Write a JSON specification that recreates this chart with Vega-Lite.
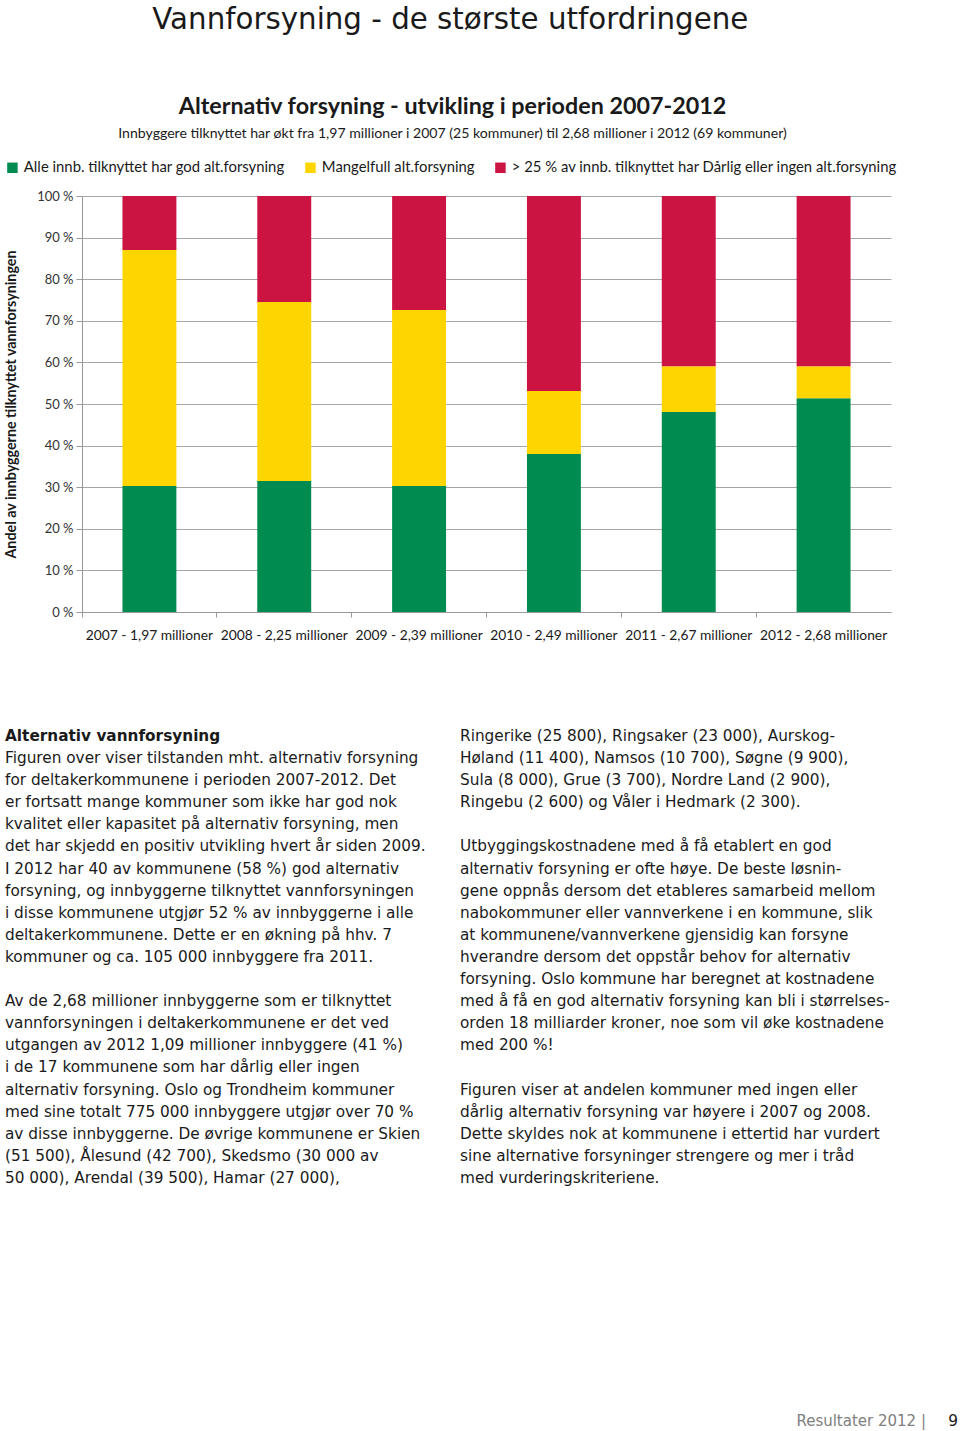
{
  "$schema": "https://vega.github.io/schema/vega-lite/v6.json",
  "background": "white",
  "padding": {"left": 4, "top": 6, "right": 0, "bottom": 0},
  "config": {"view": {"stroke": null}, "font": "Lato"},
  "title": {"text": "Vannforsyning - de største utfordringene", "font": "DejaVu Sans", "fontSize": 29.3, "fontWeight": "normal", "color": "#1a1a1a", "anchor": "middle", "offset": 59, "dx": -31},
  "spacing": 87,
  "vconcat": [
    {
      "width": 809,
      "height": 416,
      "title": {
        "text": "Alternativ forsyning - utvikling i perioden 2007-2012",
        "subtitle": "Innbyggere tilknyttet har økt fra 1,97 millioner i 2007 (25 kommuner) til 2,68 millioner i 2012 (69 kommuner)",
        "font": "Lato", "fontSize": 23.3, "fontWeight": "bold", "color": "#1a1a1a",
        "subtitleFont": "Lato", "subtitleFontSize": 14.1, "subtitleColor": "#1a1a1a", "subtitlePadding": 8,
        "offset": 48, "anchor": "middle", "dx": -34
      },
      "data": {"values": [
        {"year": "2007 - 1,97 millioner", "k": 1, "cat": "Alle innb. tilknyttet har god alt.forsyning", "value": 30.3},
        {"year": "2007 - 1,97 millioner", "k": 2, "cat": "Mangelfull alt.forsyning", "value": 56.7},
        {"year": "2007 - 1,97 millioner", "k": 3, "cat": "> 25 % av innb. tilknyttet har Dårlig eller ingen alt.forsyning", "value": 13.0},
        {"year": "2008 - 2,25 millioner", "k": 1, "cat": "Alle innb. tilknyttet har god alt.forsyning", "value": 31.5},
        {"year": "2008 - 2,25 millioner", "k": 2, "cat": "Mangelfull alt.forsyning", "value": 43.0},
        {"year": "2008 - 2,25 millioner", "k": 3, "cat": "> 25 % av innb. tilknyttet har Dårlig eller ingen alt.forsyning", "value": 25.5},
        {"year": "2009 - 2,39 millioner", "k": 1, "cat": "Alle innb. tilknyttet har god alt.forsyning", "value": 30.3},
        {"year": "2009 - 2,39 millioner", "k": 2, "cat": "Mangelfull alt.forsyning", "value": 42.3},
        {"year": "2009 - 2,39 millioner", "k": 3, "cat": "> 25 % av innb. tilknyttet har Dårlig eller ingen alt.forsyning", "value": 27.4},
        {"year": "2010 - 2,49 millioner", "k": 1, "cat": "Alle innb. tilknyttet har god alt.forsyning", "value": 38.0},
        {"year": "2010 - 2,49 millioner", "k": 2, "cat": "Mangelfull alt.forsyning", "value": 15.1},
        {"year": "2010 - 2,49 millioner", "k": 3, "cat": "> 25 % av innb. tilknyttet har Dårlig eller ingen alt.forsyning", "value": 46.9},
        {"year": "2011 - 2,67 millioner", "k": 1, "cat": "Alle innb. tilknyttet har god alt.forsyning", "value": 48.1},
        {"year": "2011 - 2,67 millioner", "k": 2, "cat": "Mangelfull alt.forsyning", "value": 11.0},
        {"year": "2011 - 2,67 millioner", "k": 3, "cat": "> 25 % av innb. tilknyttet har Dårlig eller ingen alt.forsyning", "value": 40.9},
        {"year": "2012 - 2,68 millioner", "k": 1, "cat": "Alle innb. tilknyttet har god alt.forsyning", "value": 51.4},
        {"year": "2012 - 2,68 millioner", "k": 2, "cat": "Mangelfull alt.forsyning", "value": 7.7},
        {"year": "2012 - 2,68 millioner", "k": 3, "cat": "> 25 % av innb. tilknyttet har Dårlig eller ingen alt.forsyning", "value": 40.9}
      ]},
      "mark": {"type": "bar", "width": {"band": 0.4}},
      "encoding": {
        "x": {"field": "year", "type": "nominal", "sort": null,
          "scale": {"paddingInner": 0, "paddingOuter": 0},
          "axis": {"title": null, "labelAngle": 0, "labelFontSize": 13.8, "labelColor": "#1a1a1a", "bandPosition": 0, "tickSize": 5, "tickColor": "#999", "domainColor": "#999", "labelPadding": 11, "grid": false}},
        "y": {"field": "value", "type": "quantitative", "stack": "zero",
          "scale": {"domain": [0, 100], "nice": false},
          "axis": {"values": [0, 10, 20, 30, 40, 50, 60, 70, 80, 90, 100], "labelExpr": "datum.value + ' %'",
            "title": "Andel av innbyggerne tilknyttet vannforsyningen", "titleFont": "Lato", "titleFontSize": 14.3, "titleFontWeight": "bold", "titleColor": "#1a1a1a", "titlePadding": 18,
            "labelFontSize": 13, "labelColor": "#333", "gridColor": "#a6a6a6", "domainColor": "#999", "tickColor": "#999", "tickSize": 6, "labelPadding": 3}},
        "order": {"field": "k", "type": "quantitative", "sort": "ascending"},
        "color": {"field": "cat", "type": "nominal",
          "sort": ["Alle innb. tilknyttet har god alt.forsyning", "Mangelfull alt.forsyning", "> 25 % av innb. tilknyttet har Dårlig eller ingen alt.forsyning"],
          "scale": {"domain": ["Alle innb. tilknyttet har god alt.forsyning", "Mangelfull alt.forsyning", "> 25 % av innb. tilknyttet har Dårlig eller ingen alt.forsyning"], "range": ["#008c50", "#ffd500", "#cc1442"]},
          "legend": {"title": null, "orient": "none", "legendX": -77, "legendY": -36, "direction": "horizontal", "symbolType": "square", "symbolSize": 110, "symbolStrokeWidth": 0, "symbolOpacity": 1, "labelFont": "Lato", "labelFontSize": 14.85, "labelColor": "#1a1a1a", "labelLimit": 0, "columnPadding": 18, "labelOffset": 4}}
      }
    },
    {
      "width": 809,
      "height": 685,
      "data": {"values": [
        {"col": 0, "line": 0, "kind": "heading", "text": "Alternativ vannforsyning"},
        {"col": 0, "line": 1, "kind": "body", "text": "Figuren over viser tilstanden mht. alternativ forsyning"},
        {"col": 0, "line": 2, "kind": "body", "text": "for deltakerkommunene i perioden 2007-2012. Det"},
        {"col": 0, "line": 3, "kind": "body", "text": "er fortsatt mange kommuner som ikke har god nok"},
        {"col": 0, "line": 4, "kind": "body", "text": "kvalitet eller kapasitet på alternativ forsyning, men"},
        {"col": 0, "line": 5, "kind": "body", "text": "det har skjedd en positiv utvikling hvert år siden 2009."},
        {"col": 0, "line": 6, "kind": "body", "text": "I 2012 har 40 av kommunene (58 %) god alternativ"},
        {"col": 0, "line": 7, "kind": "body", "text": "forsyning, og innbyggerne tilknyttet vannforsyningen"},
        {"col": 0, "line": 8, "kind": "body", "text": "i disse kommunene utgjør 52 % av innbyggerne i alle"},
        {"col": 0, "line": 9, "kind": "body", "text": "deltakerkommunene. Dette er en økning på hhv. 7"},
        {"col": 0, "line": 10, "kind": "body", "text": "kommuner og ca. 105 000 innbyggere fra 2011."},
        {"col": 0, "line": 12, "kind": "body", "text": "Av de 2,68 millioner innbyggerne som er tilknyttet"},
        {"col": 0, "line": 13, "kind": "body", "text": "vannforsyningen i deltakerkommunene er det ved"},
        {"col": 0, "line": 14, "kind": "body", "text": "utgangen av 2012 1,09 millioner innbyggere (41 %)"},
        {"col": 0, "line": 15, "kind": "body", "text": "i de 17 kommunene som har dårlig eller ingen"},
        {"col": 0, "line": 16, "kind": "body", "text": "alternativ forsyning. Oslo og Trondheim kommuner"},
        {"col": 0, "line": 17, "kind": "body", "text": "med sine totalt 775 000 innbyggere utgjør over 70 %"},
        {"col": 0, "line": 18, "kind": "body", "text": "av disse innbyggerne. De øvrige kommunene er Skien"},
        {"col": 0, "line": 19, "kind": "body", "text": "(51 500), Ålesund (42 700), Skedsmo (30 000 av"},
        {"col": 0, "line": 20, "kind": "body", "text": "50 000), Arendal (39 500), Hamar (27 000),"},
        {"col": 1, "line": 0, "kind": "body", "text": "Ringerike (25 800), Ringsaker (23 000), Aurskog-"},
        {"col": 1, "line": 1, "kind": "body", "text": "Høland (11 400), Namsos (10 700), Søgne (9 900),"},
        {"col": 1, "line": 2, "kind": "body", "text": "Sula (8 000), Grue (3 700), Nordre Land (2 900),"},
        {"col": 1, "line": 3, "kind": "body", "text": "Ringebu (2 600) og Våler i Hedmark (2 300)."},
        {"col": 1, "line": 5, "kind": "body", "text": "Utbyggingskostnadene med å få etablert en god"},
        {"col": 1, "line": 6, "kind": "body", "text": "alternativ forsyning er ofte høye. De beste løsnin-"},
        {"col": 1, "line": 7, "kind": "body", "text": "gene oppnås dersom det etableres samarbeid mellom"},
        {"col": 1, "line": 8, "kind": "body", "text": "nabokommuner eller vannverkene i en kommune, slik"},
        {"col": 1, "line": 9, "kind": "body", "text": "at kommunene/vannverkene gjensidig kan forsyne"},
        {"col": 1, "line": 10, "kind": "body", "text": "hverandre dersom det oppstår behov for alternativ"},
        {"col": 1, "line": 11, "kind": "body", "text": "forsyning. Oslo kommune har beregnet at kostnadene"},
        {"col": 1, "line": 12, "kind": "body", "text": "med å få en god alternativ forsyning kan bli i størrelses-"},
        {"col": 1, "line": 13, "kind": "body", "text": "orden 18 milliarder kroner, noe som vil øke kostnadene"},
        {"col": 1, "line": 14, "kind": "body", "text": "med 200 %!"},
        {"col": 1, "line": 16, "kind": "body", "text": "Figuren viser at andelen kommuner med ingen eller"},
        {"col": 1, "line": 17, "kind": "body", "text": "dårlig alternativ forsyning var høyere i 2007 og 2008."},
        {"col": 1, "line": 18, "kind": "body", "text": "Dette skyldes nok at kommunene i ettertid har vurdert"},
        {"col": 1, "line": 19, "kind": "body", "text": "sine alternative forsyninger strengere og mer i tråd"},
        {"col": 1, "line": 20, "kind": "body", "text": "med vurderingskriteriene."},
        {"col": 2, "line": 31, "kind": "footer", "text": "Resultater 2012 |"},
        {"col": 2, "line": 31, "kind": "page", "text": "9"}
      ]},
      "encoding": {
        "x": {"field": "col", "type": "quantitative", "scale": {"domain": [0, 2], "range": [-77, 833], "nice": false, "zero": false}, "axis": null},
        "y": {"field": "line", "type": "quantitative", "scale": {"domain": [0, 31], "nice": false, "zero": false, "reverse": true}, "axis": null},
        "text": {"field": "text"}
      },
      "layer": [
        {"transform": [{"filter": "datum.kind === 'body'"}], "mark": {"type": "text", "align": "left", "baseline": "middle", "font": "DejaVu Sans", "fontSize": 15.3, "color": "#1a1a1a"}},
        {"transform": [{"filter": "datum.kind === 'heading'"}], "mark": {"type": "text", "align": "left", "baseline": "middle", "font": "DejaVu Sans", "fontSize": 15.3, "fontWeight": "bold", "color": "#1a1a1a"}},
        {"transform": [{"filter": "datum.kind === 'footer'"}], "mark": {"type": "text", "align": "right", "baseline": "middle", "font": "DejaVu Sans", "fontSize": 15, "color": "#808080", "dx": 11}},
        {"transform": [{"filter": "datum.kind === 'page'"}], "mark": {"type": "text", "align": "right", "baseline": "middle", "font": "DejaVu Sans", "fontSize": 15.3, "color": "#1a1a1a", "dx": 43}}
      ]
    }
  ]
}
